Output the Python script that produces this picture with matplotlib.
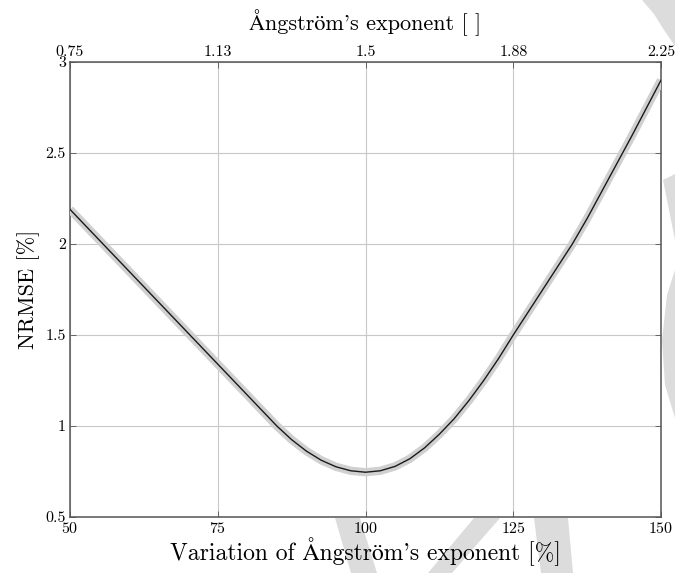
import matplotlib.pyplot as plt
from matplotlib.patches import Polygon

plt.rcParams['font.family'] = ['cmr10', 'STIXGeneral']
plt.rcParams['axes.formatter.use_mathtext'] = True

# NRMSE against the relative change of the Angstrom exponent
variation = [50, 55, 60, 65, 70, 75, 80, 85, 87.5, 90, 92.5, 95, 97.5, 100,
             102.5, 105, 107.5, 110, 112.5, 115, 117.5, 120, 122.5, 125, 127.5,
             130, 132.5, 135, 137.5, 140, 142.5, 145, 147.5, 150]
nrmse = [2.19, 2.02, 1.85, 1.68, 1.51, 1.34, 1.17, 1.0, 0.925, 0.862, 0.812, 0.776, 0.754, 0.746,
         0.754, 0.778, 0.82, 0.88, 0.955, 1.04, 1.14, 1.25, 1.37, 1.5, 1.625,
         1.75, 1.875, 2.0, 2.14, 2.29, 2.44, 2.59, 2.745, 2.90]

y_ticks = [0.5, 1, 1.5, 2, 2.5, 3]
y_labels = ['0.5', '1', '1.5', '2', '2.5', '3']
x_ticks = [50, 75, 100, 125, 150]
top_ticks = [0.75, 1.125, 1.5, 1.875, 2.25]
top_labels = ['0.75', '1.13', '1.5', '1.88', '2.25']

angstrom = "Ångström's exponent"

fig = plt.figure(figsize=(6.75, 5.73), dpi=100)

# faint logo behind the plot, in pixel coordinates
bg = fig.add_axes([0, 0, 1, 1], zorder=0)
bg.set_xlim(0, 675)
bg.set_ylim(573, 0)
bg.axis('off')
shade = '#dcdcdc'
shapes = [
    [(642, 0), (675, 0), (675, 46), (664, 30), (654, 14)],
    [(663, 180), (675, 174), (675, 240)],
    [(675, 270), (675, 418), (665, 385), (662, 340), (667, 295)],
    [(335, 518), (360, 518), (377, 573), (351, 573)],
    [(474, 518), (500, 518), (452, 573), (428, 573)],
    [(534, 518), (568, 518), (573, 573), (541, 573)],
]
for pts in shapes:
    bg.add_patch(Polygon(pts, closed=True, facecolor=shade, edgecolor='none'))

ax = fig.add_axes([70 / 675, 1 - 517 / 573, 591 / 675, 455 / 573], zorder=1)
ax.set_facecolor('white')
ax.plot(variation, nrmse, color='#d0d0d0', lw=6.0, solid_capstyle='butt',
        solid_joinstyle='round', zorder=3)
ax.plot(variation, nrmse, color='#1a1a1a', lw=1.0, solid_joinstyle='round', zorder=4)

ax.set_xlim(50, 150)
ax.set_ylim(0.5, 3)
ax.set_xticks(x_ticks)
ax.set_yticks(y_ticks)
ax.set_yticklabels(y_labels)
ax.grid(True, color='#c8c8c8', lw=0.8)
ax.set_axisbelow(True)
ax.tick_params(direction='in', length=4, width=0.6, labelsize=11.5, colors='#555555',
               labelcolor='black', top=False, right=True)
ax.tick_params(axis='x', pad=3)
ax.tick_params(axis='y', pad=3)
for s in ax.spines.values():
    s.set_color('#555555')
    s.set_linewidth(1.1)

ax.set_xlabel('Variation of ' + angstrom + ' [%]', fontsize=17, labelpad=0.5)
ax.set_ylabel('NRMSE [%]', fontsize=16, labelpad=4)

top = ax.twiny()
top.set_xlim(0.75, 2.25)
top.set_xticks(top_ticks)
top.set_xticklabels(top_labels)
top.tick_params(direction='in', length=4, width=0.6, labelsize=11.5, colors='#555555',
                labelcolor='black', pad=2)
for s in top.spines.values():
    s.set_visible(False)
top.set_xlabel(angstrom + ' [ ]', fontsize=16, labelpad=11)

fig.savefig('out.png', dpi=100)
